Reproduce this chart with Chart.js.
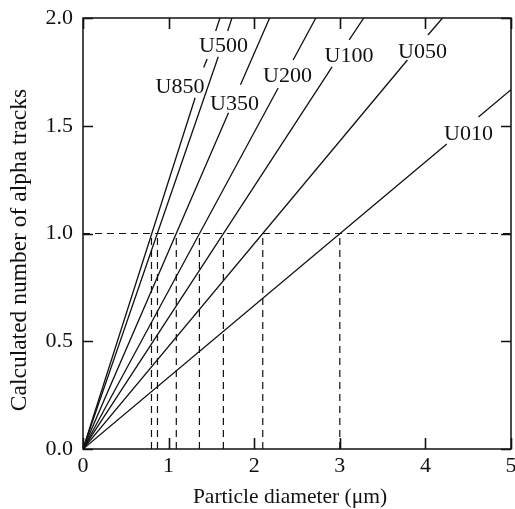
<!DOCTYPE html>
<html>
<head>
<meta charset="utf-8">
<script src="https://cdn.jsdelivr.net/npm/chart.js@4.4.0/dist/chart.umd.min.js"></script>
<style>
  html, body { margin: 0; padding: 0; background: #fff; }
  #wrap { width: 515px; height: 509px; }
</style>
</head>
<body>
<div id="wrap"><canvas id="alphaChart"></canvas></div>
<script>
// DATA
const seriesNames = ['U850', 'U500', 'U350', 'U200', 'U100', 'U050', 'U010'];
// particle diameter (um) where each curve gives one alpha track
const oneTrackDiameters = [0.80, 0.87, 1.09, 1.36, 1.64, 2.10, 3.00];
// [diameter, tracks] along each curve, null = break where the label sits
const u850Points = [[0, 0], [1.31, 1.63], null, [1.41, 1.77], [1.45, 1.81], null, [1.55, 1.94], [1.60, 2.0]];
const u500Points = [[0, 0], [1.58, 1.82], null, [1.69, 1.94], [1.74, 2.0]];
const u350Points = [[0, 0], [1.70, 1.56], null, [1.84, 1.69], [2.18, 2.0]];
const u200Points = [[0, 0], [2.28, 1.675], null, [2.455, 1.805], [2.72, 2.0]];
const u100Points = [[0, 0], [2.91, 1.773], null, [3.11, 1.898], [3.28, 2.0]];
const u050Points = [[0, 0], [3.79, 1.805], null, [4.03, 1.921], [4.20, 2.0]];
const u010Points = [[0, 0], [4.25, 1.415], null, [4.62, 1.541], [5.0, 1.667]];
const oneTrackLevel = 1.0;
const xTickValues = [0, 1, 2, 3, 4, 5];
const yTickValues = [0.0, 0.5, 1.0, 1.5, 2.0];

const curvePoints = [u850Points, u500Points, u350Points, u200Points, u100Points, u050Points, u010Points];

// where the curve names are written (data units, text baseline)
const labelSpots = [[1.133, 1.652], [1.641, 1.842], [1.770, 1.573], [2.389, 1.703], [3.107, 1.796], [3.966, 1.814], [4.504, 1.434]];

const serif = '"Liberation Serif", "Times New Roman", serif';
const ink = '#111111';

const toXY = pts => {
    let out = [];
    let lastX = 0;
    pts.forEach(p => {
        if (p) {
            out.push({ x: p[0], y: p[1] });
            lastX = p[0];
        } else {
            out.push({ x: lastX, y: null });
        }
    });
    return out;
};

// dashed guides: y = 1 across, and drops at each one-track diameter
const dropPoints = [];
oneTrackDiameters.forEach(d => {
    dropPoints.push({ x: d, y: 0 }, { x: d, y: oneTrackLevel }, { x: d, y: null });
});

const datasets = [
    {
        label: 'guide',
        data: [{ x: xTickValues[0], y: oneTrackLevel }, { x: xTickValues[xTickValues.length - 1], y: oneTrackLevel }],
        borderColor: ink, borderWidth: 1.2, borderDash: [7, 5], pointRadius: 0
    },
    {
        label: 'drops',
        data: dropPoints,
        borderColor: ink, borderWidth: 1.2, borderDash: [7, 5], pointRadius: 0
    }
];
curvePoints.forEach((pts, i) => {
    datasets.push({
        label: seriesNames[i],
        data: toXY(pts),
        borderColor: ink,
        borderWidth: 1.3,
        pointRadius: 0,
        tension: 0
    });
});

const frameAndLabels = {
    id: 'frameAndLabels',
    afterDraw(chart) {
        const ctx = chart.ctx;
        const { left, right, top, bottom } = chart.chartArea;
        const xs = chart.scales.x;
        const ys = chart.scales.y;
        ctx.save();
        ctx.strokeStyle = ink;
        ctx.lineWidth = 1.5;
        ctx.strokeRect(left, top, right - left, bottom - top);

        // inward ticks on all four sides
        ctx.lineWidth = 1.6;
        ctx.beginPath();
        xTickValues.forEach(v => {
            const px = Math.round(xs.getPixelForValue(v)) + 0.5;
            ctx.moveTo(px, bottom);
            ctx.lineTo(px, bottom - 11);
            ctx.moveTo(px, top);
            ctx.lineTo(px, top + 11);
        });
        yTickValues.forEach(v => {
            const py = Math.round(ys.getPixelForValue(v)) + 0.5;
            ctx.moveTo(left, py);
            ctx.lineTo(left + 10, py);
            ctx.moveTo(right, py);
            ctx.lineTo(right - 10, py);
        });
        ctx.stroke();

        // curve names
        ctx.fillStyle = ink;
        ctx.font = '22px ' + serif;
        ctx.textAlign = 'center';
        ctx.textBaseline = 'alphabetic';
        seriesNames.forEach((name, i) => {
            const spot = labelSpots[i];
            ctx.fillText(name, xs.getPixelForValue(spot[0]), ys.getPixelForValue(spot[1]));
        });

        // axis titles
        ctx.font = '21.5px ' + serif;
        ctx.fillText('Particle diameter (\u03bcm)', 290, 503);
        ctx.translate(26, 250);
        ctx.rotate(-Math.PI / 2);
        ctx.font = '23.5px ' + serif;
        ctx.fillText('Calculated number of alpha tracks', 0, 0);
        ctx.restore();
    }
};

new Chart(document.getElementById('alphaChart'), {
    type: 'line',
    data: { datasets: datasets },
    options: {
        responsive: true,
        maintainAspectRatio: false,
        animation: false,
        layout: { padding: { top: 18, right: 4, left: 0, bottom: 0 } },
        plugins: { legend: { display: false }, tooltip: { enabled: false } },
        scales: {
            x: {
                type: 'linear', min: 0, max: 5,
                grid: { display: false, drawTicks: false },
                border: { display: false },
                ticks: { stepSize: 1, padding: 4, color: ink, maxRotation: 0, autoSkip: false,
                         font: { family: serif, size: 22 } },
                afterFit: s => { s.height = 60; s.paddingLeft = 0; s.paddingRight = 0; }
            },
            y: {
                type: 'linear', min: 0, max: 2,
                grid: { display: false, drawTicks: false },
                border: { display: false },
                ticks: { stepSize: 0.5, padding: 10, color: ink, autoSkip: false,
                         font: { family: serif, size: 22 },
                         callback: v => v.toFixed(1) },
                afterFit: s => { s.width = 83; s.paddingTop = 0; s.paddingBottom = 0; }
            }
        }
    },
    plugins: [frameAndLabels]
});
</script>
</body>
</html>
